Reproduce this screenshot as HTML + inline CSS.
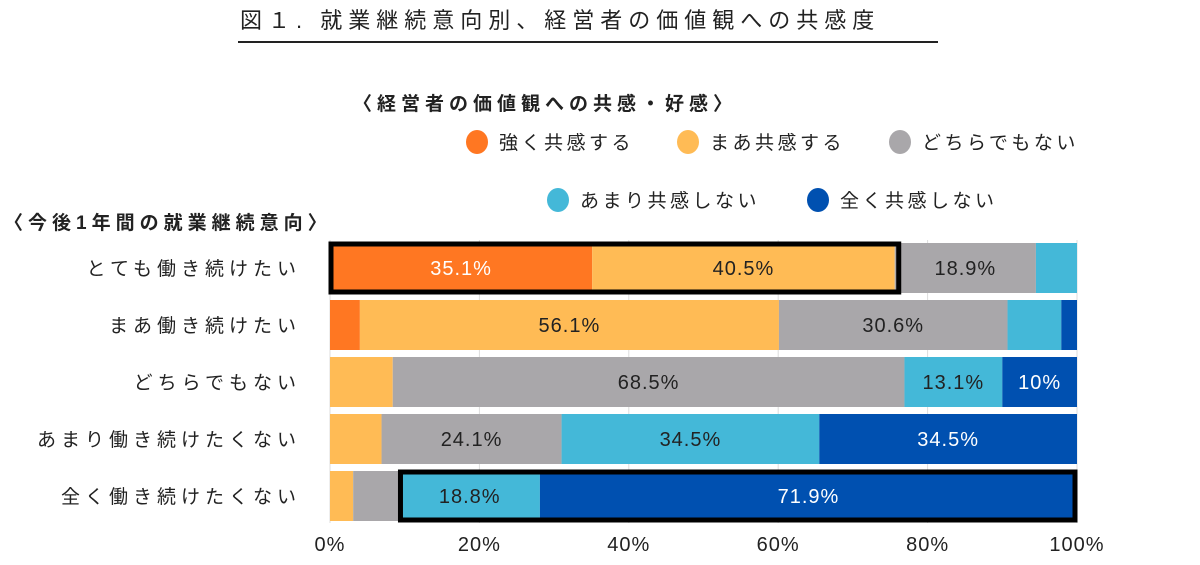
<!DOCTYPE html>
<html><head><meta charset="utf-8"><style>
body{margin:0;background:#fff;}
svg text{font-family:"Liberation Sans","Noto Sans CJK JP",sans-serif;}
</style></head><body>
<svg id="chart" width="1200" height="560" xmlns="http://www.w3.org/2000/svg">
<text x="240" y="28" font-size="22" fill="#222" letter-spacing="6">図１. 就業継続意向別、経営者の価値観への共感度</text>
<line x1="238" y1="42" x2="938" y2="42" stroke="#222" stroke-width="2"/>
<text x="353" y="110" font-size="19" font-weight="bold" fill="#222" letter-spacing="5">〈経営者の価値観への共感・好感〉</text>
<text x="4" y="229" font-size="19" font-weight="bold" fill="#222" letter-spacing="5">〈今後1年間の就業継続意向〉</text>
<g id="legend"></g>
<g id="grid"></g>
<g id="bars"></g>
<g id="ylabels"></g>
<g id="xlabels"></g>
</svg>
<script>
const categories=["とても働き続けたい","まあ働き続けたい","どちらでもない","あまり働き続けたくない","全く働き続けたくない"];
const seriesNames=["強く共感する","まあ共感する","どちらでもない","あまり共感しない","全く共感しない"];
const strongly=[35.1,4.0,0,0,0];
const somewhat=[40.5,56.1,8.4,6.9,3.1];
const neutral=[18.9,30.6,68.5,24.1,6.2];
const notMuch=[5.5,7.2,13.1,34.5,18.8];
const notAtAll=[0,2.1,10,34.5,71.9];
const printed=[["35.1%","40.5%","18.9%","",""],["","56.1%","30.6%","",""],["","","68.5%","13.1%","10%"],["","","24.1%","34.5%","34.5%"],["","","","18.8%","71.9%"]];
const xTicks=[0,20,40,60,80,100];
const highlights=[[0,0,1],[4,3,4]];
const colors=["#FF7722","#FFBB55","#A9A7AA","#44B8D8","#0050B0"];
const textColors=["#fff","#222","#222","#222","#fff"];
const NS="http://www.w3.org/2000/svg";
const x0=330,x1=1077,rowTop=243,rowStep=57,barH=50;
const xs=v=>x0+(x1-x0)*v/100;
const ys=i=>rowTop+i*rowStep;
const series=[strongly,somewhat,neutral,notMuch,notAtAll];
function mk(t,a,p){const e=document.createElementNS(NS,t);for(const k in a)e.setAttribute(k,a[k]);p.appendChild(e);return e;}
const grid=document.getElementById('grid');
xTicks.forEach(t=>{const l=mk('line',{x1:xs(t),x2:xs(t),y1:ys(0)-3,y2:ys(4)+barH+2,stroke:'#ddd','stroke-width':1},grid);

});
const bars=document.getElementById('bars');
categories.forEach((c,i)=>{let acc=0;
series.forEach((s,j)=>{const v=s[i];if(v>0){const r=mk('rect',{x:xs(acc),y:ys(i),width:xs(acc+v)-xs(acc),height:barH,fill:colors[j]},bars);


if(printed[i][j]){const t=mk('text',{x:(xs(acc)+xs(acc+v))/2,y:ys(i)+barH/2+7,'font-size':20,'text-anchor':'middle',fill:textColors[j],'letter-spacing':1},bars);t.textContent=printed[i][j];

}}
acc+=v;});});
highlights.forEach(h=>{const i=h[0];let a=0;for(let j=0;j<h[1];j++)a+=series[j][i];let b=a;for(let j=h[1];j<=h[2];j++)b+=series[j][i];
const left=xs(a)+1,right=Math.min(xs(b)+4,x1-2);
const r=mk('rect',{x:left,y:ys(i)+1,width:right-left,height:barH-2,fill:'none',stroke:'#000','stroke-width':5},bars);

});
const yl=document.getElementById('ylabels');
categories.forEach((c,i)=>{const t=mk('text',{x:301,y:ys(i)+barH/2+7,'font-size':19,'text-anchor':'end',fill:'#222','letter-spacing':5},yl);t.textContent=c;

});
const xl=document.getElementById('xlabels');
xTicks.forEach(v=>{const t=mk('text',{x:xs(v),y:551,'font-size':20,'text-anchor':'middle',fill:'#222','letter-spacing':1},xl);t.textContent=v+'%';

});
const lg=document.getElementById('legend');
const lpos=[[477,142],[688,142],[900,142],[558,200],[818,200]];
seriesNames.forEach((n,j)=>{const g=mk('g',{},lg);


mk('ellipse',{cx:lpos[j][0],cy:lpos[j][1],rx:11,ry:12,fill:colors[j]},g);
const t=mk('text',{x:lpos[j][0]+22,y:lpos[j][1]+7,'font-size':19,fill:'#222','letter-spacing':3.5},g);t.textContent=n;});
</script>
</body></html>
